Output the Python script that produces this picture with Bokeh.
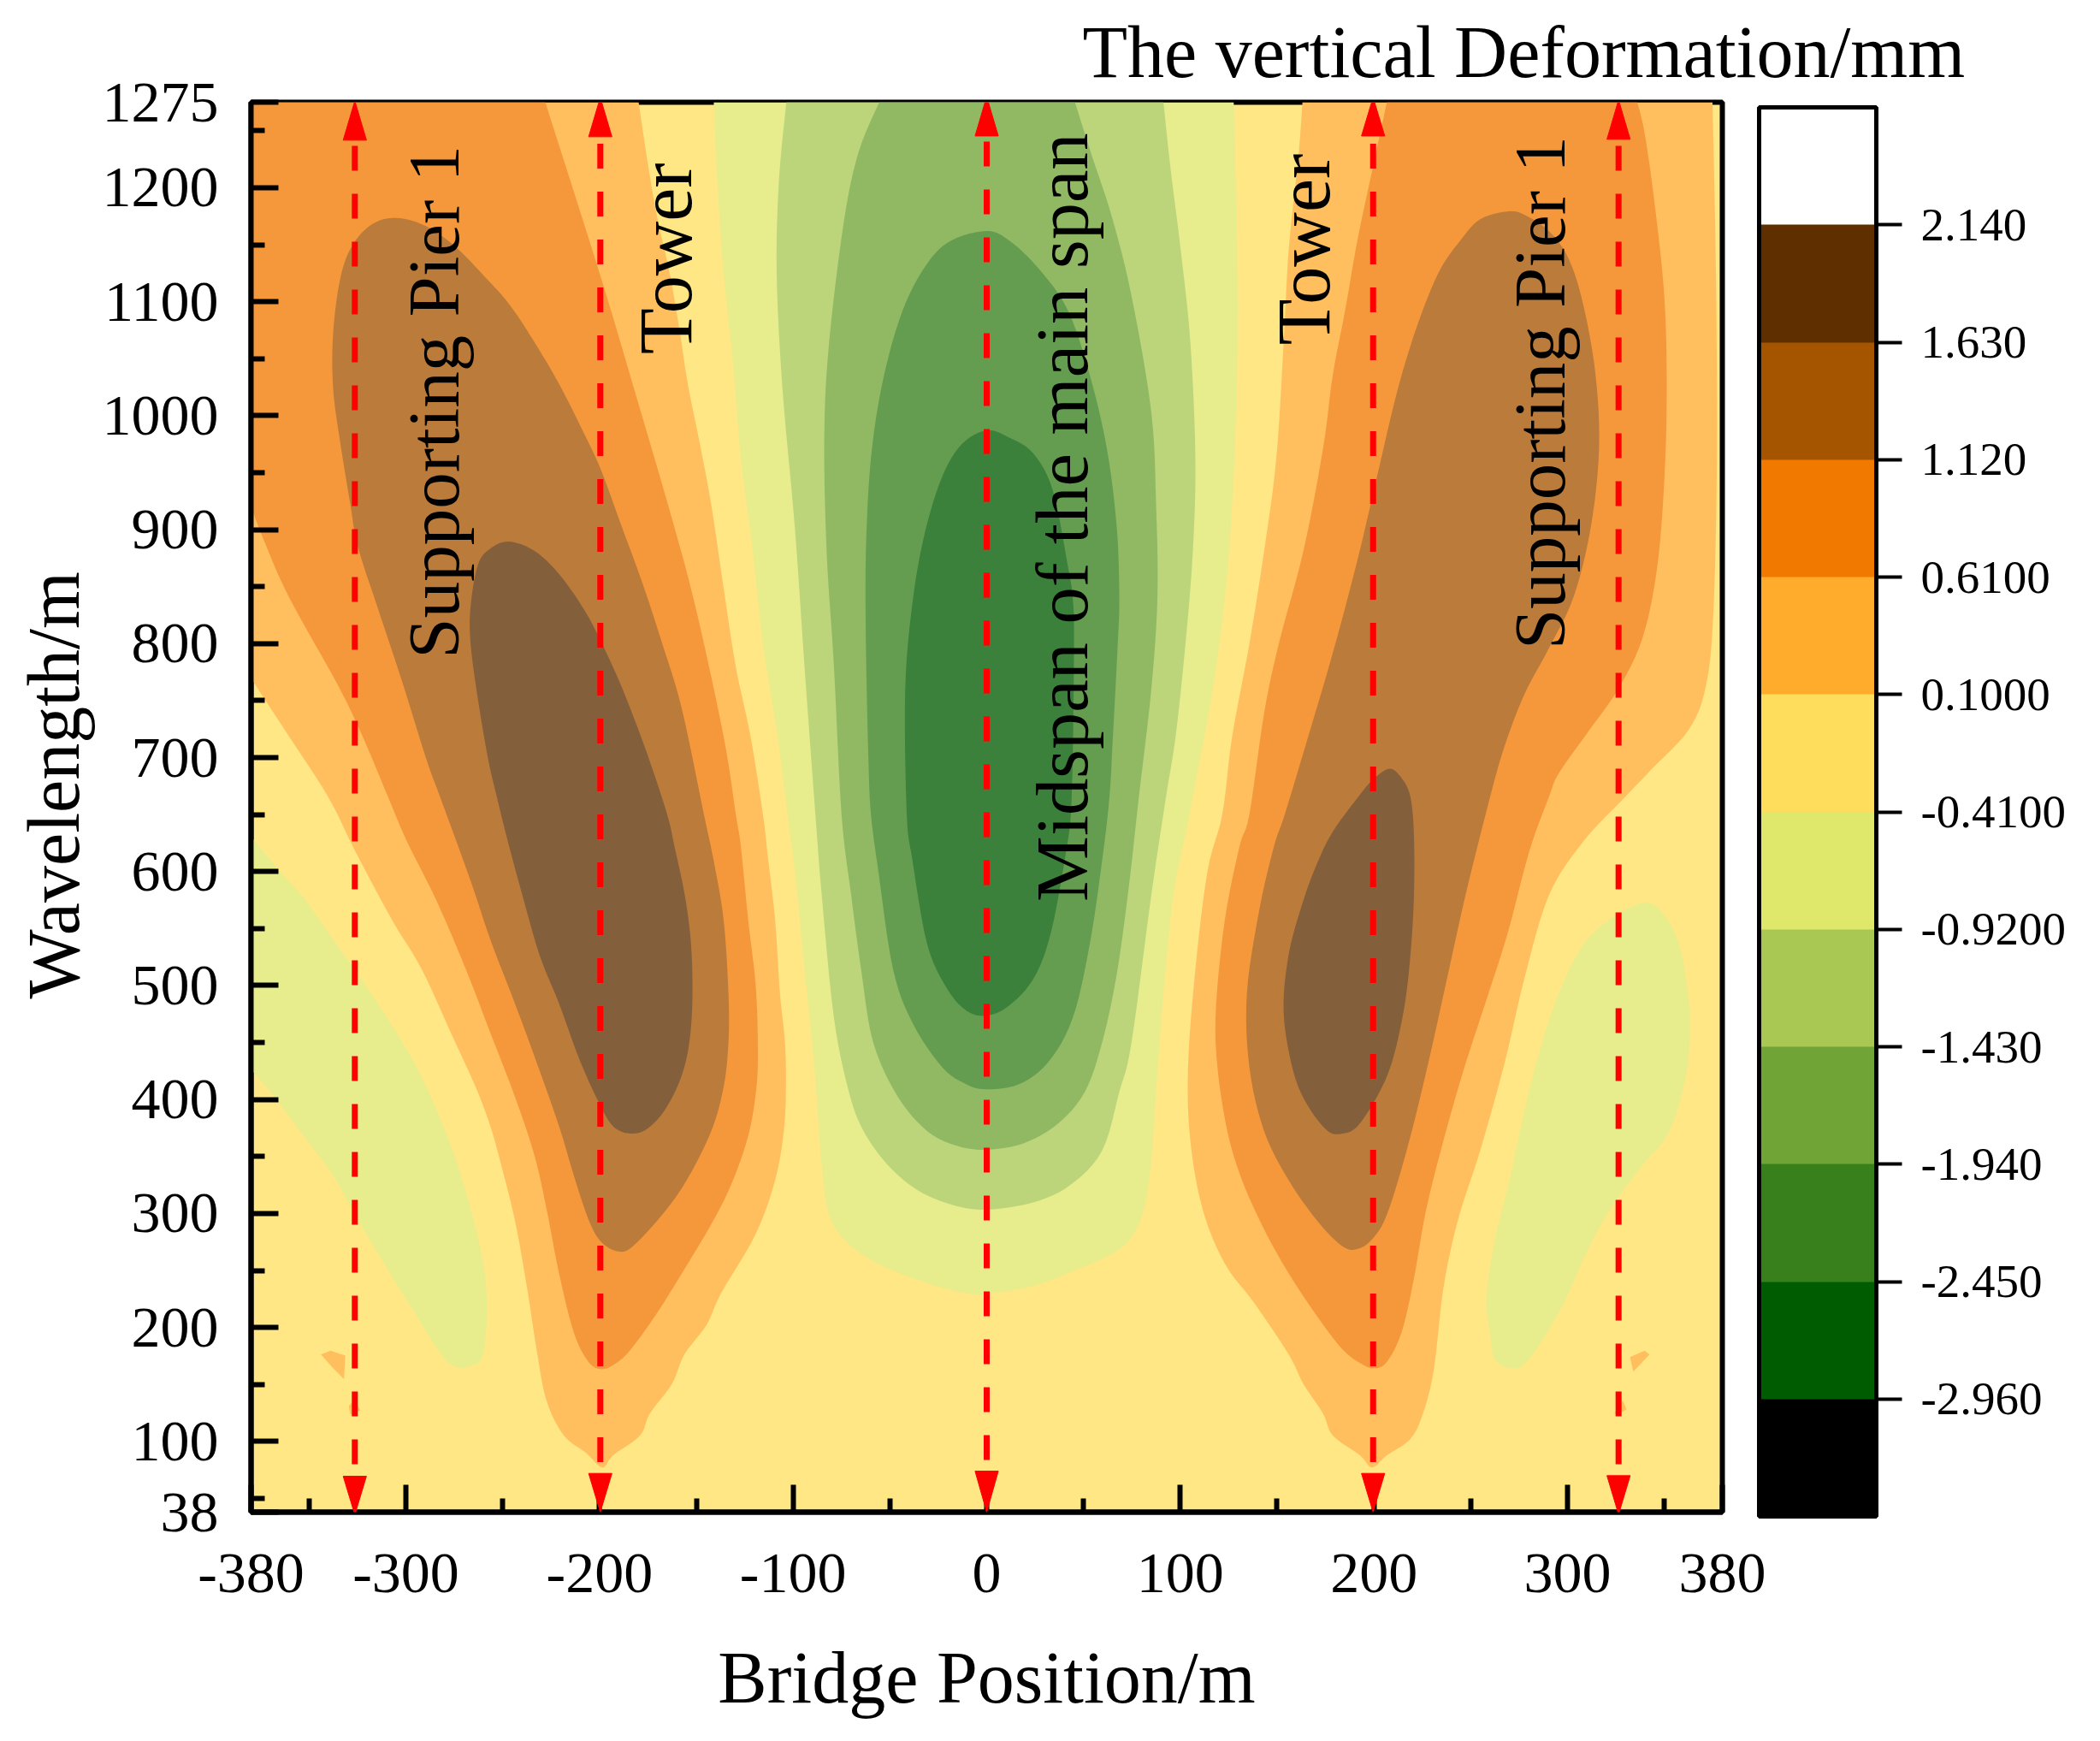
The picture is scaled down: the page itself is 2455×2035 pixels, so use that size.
from math import pi
from bokeh.plotting import figure
from bokeh.models import ColorBar, FixedTicker, LinearColorMapper, PolyAnnotation, Title
from bokeh.core.properties import value
from bokeh.embed import file_html
from bokeh.resources import INLINE

FONT = "Liberation Serif"

# ---- axes
x_major = [-380, -300, -200, -100, 0, 100, 200, 300, 380]
x_minor = [-350, -250, -150, -50, 50, 150, 250, 350]
y_major = [38, 100, 200, 300, 400, 500, 600, 700, 800, 900, 1000, 1100, 1200, 1275]
y_minor = [50, 150, 250, 350, 450, 550, 650, 750, 850, 950, 1050, 1150, 1250]

# ---- colour scale
levels = [-2.96, -2.45, -1.94, -1.43, -0.92, -0.41, 0.10, 0.61, 1.12, 1.63, 2.14]
level_labels = ["-2.960", "-2.450", "-1.940", "-1.430", "-0.9200", "-0.4100", "0.1000", "0.6100", "1.120", "1.630", "2.140"]
palette = ["#000000", "#005C00", "#37801C", "#70A436", "#A8C853", "#E0E86B",
           "#FFDD5C", "#FFAB2B", "#F27900", "#A55400", "#5F2F00", "#FFFFFF"]
scale_low, scale_high = -3.47, 2.65

# ---- contour fill colours
c_bg = "#FEE784"
c_pos1 = "#FFBF5F"
c_pos2 = "#F5983B"
c_pos3 = "#BA7B3B"
c_pos4 = "#845F3B"
c_neg1 = "#E7ED8D"
c_neg2 = "#BCD57B"
c_neg3 = "#91B964"
c_neg4 = "#659D50"
c_neg5 = "#3B813B"

# ---- contours, left lobe
L1_x = [-179.8,-175.2,-170.2,-163.8,-158.8,-154.4,-148.6,-142.3,-135.9,-129.6,-122,-115.6,-113.1,-109.3,-106.8,-104.2,-103.7,-104.8,-109.3,-119.4,-137.2,-144.8,-156.2,-162.6,-174,-179.1,-193,-198.6,-207,-218.4,-227.3,-232.3,-237.4,-243.8,-251.4,-256.4,-264,-276.8,-291.9,-307.2,-326.2,-340.1,-360.4,-380]
L1_y = [1275,1223,1174,1125.5,1076.6,1027.8,979,922,848.8,779.6,718.6,650.3,613.6,557.6,493,449.9,411,372.3,329.2,281.8,230.1,202.1,176.3,150.4,124.6,105.2,87.9,77.2,90.1,105.2,135.3,178.4,234.4,294.8,346.5,376.6,411,458.5,514.5,557.6,617.9,665.3,718.6,769.5]

L2_x = [-228,-199.3,-182.9,-162.6,-149.9,-135.9,-129.6,-127,-123.2,-119.4,-118.2,-118.9,-123.2,-132.1,-142.3,-157.5,-170.2,-182.9,-190.5,-198.6,-205.7,-213.3,-220.9,-227.3,-233.6,-243.7,-256.4,-269.1,-284.3,-299.5,-309.2,-322.4,-335.1,-360.4,-373.1,-380]
L2_y = [1275,1121.4,1027.8,909.8,828.5,718.6,650.3,622.2,557.6,501.6,449.9,411,368,325,290.5,247.4,212.9,182.8,169.8,163.4,169.8,195.7,247.4,303.4,350.8,402.5,458.5,514.5,574.8,626.5,665.3,718.6,763.4,840.7,889.5,920]

L3_x = [-304.6,-289.4,-274.2,-259,-246.3,-233.6,-220.9,-208.2,-199.3,-189.2,-177.8,-167.6,-157.5,-146.1,-141,-135.9,-133.4,-133.4,-135.9,-142.3,-155,-167.6,-182.9,-190.5,-199.3,-205.7,-213.3,-220.9,-232.5,-243.7,-256.4,-266.6,-282.3,-289.4,-302.1,-314.8,-324.9,-328.7,-333.8,-337.6,-337.6,-333.8,-327.5,-317.3]
L3_y = [1173.5,1166.1,1147.8,1121.4,1097,1064.4,1027.8,985.1,952.6,905.8,853,800,743,650.3,609.3,557.6,493,449.9,411,372.3,329.2,299,271.1,266.8,275.4,294.8,333.5,376.6,432.6,484.3,540.3,592,665.3,698.3,767.4,832.5,885.4,922,975,1023.8,1072.6,1121.4,1149.9,1168.2]

L4_x = [-246.8,-233.6,-220.9,-208.2,-199.3,-187.9,-175.2,-165.1,-161.3,-155.5,-152.4,-152.4,-156.2,-165.1,-175.2,-184.1,-193,-200.6,-210.8,-220.9,-231.1,-241.2,-248,-253,-257.5,-262.8,-266.6,-266.6,-262.8,-256.4]
L4_y = [889.5,881.4,861,830.5,802,759.3,702.4,650.3,622.2,574.8,527.4,471.4,428.3,393.9,374.5,370.2,376.6,398.2,437,484.3,527.4,587.7,630.8,665.3,698.3,751.2,800,832.5,869.2,883.4]

LG_x = [-380,-365.5,-352.8,-337.6,-324.9,-309.7,-294.5,-281.8,-271.6,-261.5,-258.2,-260.2,-266.6,-274.2,-281.8,-297,-309.7,-324.9,-337.6,-352.8,-368,-380]
LG_y = [630.8,600.7,577,540.3,510.2,471.4,428.3,381,333.5,268.9,221.5,176.3,166.4,165.5,176.3,217.2,251.7,294.8,333.5,368,402.5,426.2]

LB1_x = [-343.9,-338.9,-331.3,-332,-337.6]
LB1_y = [176.3,179.7,175.4,154.7,164.2]
LB2_x = [-329.5,-326.9,-323.6,-328.7]
LB2_y = [131,136.2,127.6,123.3]

# ---- contours, centre lobe
G1_x = [-141,-139.2,-135.9,-130.9,-127,-120.8,-115.6,-108,-102.9,-99.1,-94.1,-89,-85.2,-81.4,-72.5,-56,-30.7,-10.4,0,24.1,44.4,64.7,74.8,81.1,85,87.5,91.3,96.4,104,107.8,116.7,123,126.8,128.8,129.6,129.1,127.6]
G1_y = [1275,1206.8,1125.5,1044,962.7,881.4,800,718.6,650.3,600.7,514.5,428.3,342.2,299,275.4,256,238.8,230.1,229.3,236.6,249.5,264.6,279.7,303.4,346.5,406.8,493,579.1,643.8,678,759.3,840.7,922,1003.4,1084.8,1166.1,1275]

G2_x = [-103.5,-107.3,-108.5,-105.5,-99.1,-94.1,-88.5,-85.2,-78.9,-71.2,-63.6,-50.9,-35.8,-18,0,24.1,43.1,59.6,68.5,74.8,85,92.6,97.6,102.7,106.5,107.8,105.2,100.2,95.1,91.3]
G2_y = [1275,1206.8,1125.5,1023.8,901.7,779.6,650.3,579.1,471.4,406.8,372.3,342.2,320.6,307.7,303.4,309.8,324.9,355.1,406.8,449.9,579.1,665.3,718.6,800,881.4,962.7,1064.4,1145.8,1215,1275]

G3_x = [-55.5,-66.2,-73.8,-81.4,-83.9,-82.7,-78.9,-75,-70,-64.9,-58.6,-45.9,-30.7,-15.4,0,19,36.8,50.7,59.6,67.2,73.5,78.6,85,88.2,87.5,85,74.8,64.7,54.5,45.6]
G3_y = [1275,1231.2,1170.2,1064.4,983,881.4,779.6,650.3,579.1,514.5,449.9,402.5,372.3,359.4,356,361.6,378.8,406.8,449.9,510.2,587.7,665.3,759.3,840.7,922,1003.4,1105.1,1174.3,1227.2,1275]

G4_x = [0,-18,-30.7,-43.3,-53.5,-59.8,-62.4,-62.4,-61.1,-59.8,-56,-48.4,-38.3,-23,-10.4,0,16.5,31.7,44.4,53.2,59.6,63.4,65.2,67.7,68.5,67.2,62.1,53.2,41.8,26.6,11.4]
G4_y = [1162,1154,1133.6,1092.9,1031.9,962.7,881.4,800,698.3,650.3,600.7,514.5,467.1,428.3,413.3,409,413.3,432.6,471.4,536,609.3,665.3,718.6,800,840.7,901.7,970.9,1036,1092.9,1129.5,1154]

G5_x = [0,-12.9,-23,-31.9,-38.3,-42.1,-41.3,-38.3,-30.7,-20.5,-10.4,0,11.4,24.1,32.9,40.6,43.9,45.1,44.4,41.8,34.2,24.1,11.4]
G5_y = [987.1,975,946.4,897.6,836.6,759.3,650.3,609.3,536,497.3,477.9,473.6,482.2,505.9,544.7,613.6,665.3,800,840.7,869.2,934.2,966.8,981]

# ---- contours, right lobe
R1_x = [163.1,161,156,153.4,149.6,143.3,135.7,126.8,121.7,114.1,107.8,104,105.2,111.6,123,138.2,156,163.6,173.7,178.8,192.8,199.1,206.7,218.1,224.5,230.8,235.9,243.5,254.9,267.6,277.7,290.4,308.2,329.7,343.7,362.7,371.6,375.4,377.2,376.7,374.9]
R1_y = [1275,1227.2,1145.8,1064.4,962.7,881.4,800,718.6,650.3,600.7,514.5,428.3,363.7,303.4,256,221.5,176.3,150.4,124.6,105.2,87.9,77.2,87.9,100.9,120.3,161.2,234.4,294.8,355.1,432.6,505.9,579.1,626.5,665.3,690.2,724.7,763.4,828.5,962.7,1125.5,1275]

R2_x = [206.7,199.1,191.5,185.2,178.8,173.7,163.6,150.9,143.3,135.7,130.6,123,118.4,119.2,124.3,131.9,143.3,156,171.2,183.9,194,200.4,206.7,214.3,220.7,227,235.9,246,257.5,268.9,280.3,290.4,295.5,310.7,325.9,338.6,346.2,350,351.3,350,345,339.9,336.1]
R2_y = [1275,1215,1154,1092.9,1036,970.9,881.4,800,739,650.3,622.2,557.6,480,428.3,372.3,329.2,286.1,247.4,208.6,180.6,167.7,164.2,169.8,195.7,243.1,303.4,363.7,424,484.3,544.7,617.9,665.3,686.1,722.7,759.3,804.1,865.1,942.4,1023.8,1105.1,1186.5,1247.5,1275]

R3_x = [268.9,254.9,244.8,233.4,221.9,211.8,201.6,191.5,178.8,166.1,154,148.4,140.8,134.4,135.7,143.3,156,171.2,183.9,191.5,199.1,206.7,216.9,227,237.2,247.3,260,267.6,277.7,290.4,303.1,312,316.3,314.5,308.2,300.6,290.4,277.7]
R3_y = [1179.2,1172.3,1154,1125.5,1076.6,1019.7,946.4,873.2,791.9,718.6,650.3,622.2,566.2,493,428.3,372.3,329.2,292.6,271.1,268.9,277.5,299,355.1,424,501.6,579.1,665.3,710.5,755.3,796,840.7,901.7,970.9,1036,1097,1137.7,1162,1176.3]

R4_x = [208,199.1,190.2,178.8,171.2,163.6,156,153.4,158.5,166.1,176.3,183.9,191.5,201.6,209.3,215.6,218.9,220.7,220.7,218.9,214.3]
R4_y = [690.2,680,661.7,635.1,609.3,574.8,527.4,475.7,424,393.9,372.3,370.2,376.6,402.5,432.6,480,527.4,579.1,630.8,665.3,682]

RG_x = [339.9,350,357.7,361.5,363.2,361.5,352.6,338.6,323.4,310.7,299.3,287.9,277.7,270.1,262.5,260,258.2,262.5,270.1,277.7,285.4,295.5,308.2,323.4]
RG_y = [572.7,561.9,536,501.6,471.4,424,372.3,342.2,307.7,268.9,225.8,191.4,167.7,164.6,172,195.7,225.8,277.5,329.2,389.6,441.3,493,536,559.7]

RB1_x = [332.3,339.9,342.4,334]
RB1_y = [174.1,179.7,176.3,161.2]
RB2_x = [324.2,328.5,330.5,326]
RB2_y = [124.6,136.2,128.2,123.3]

# ---- red double arrows
arrow_x =          [-326.4, -199.6, 0, 199.6, 326.4]
arrow_tip_top =    [1276.2, 1279.2, 1280, 1279.2, 1277]
arrow_base_top =   [1241.7, 1244.7, 1245.4, 1245.4, 1242.5]
arrow_base_bot =   [69.5, 72, 74, 72, 70]
arrow_tip_bot =    [35.7, 38, 38, 38, 36]
arrow_line_start = [80, 82, 83.7, 82, 80]
head_half_width = 6.0

# ---- rotated annotations (x = baseline, y = start of text)
note_text = ["Supporting Pier 1", "Tower", "Midspan of the main span", "Tower", "Supporting Pier 1"]
note_x = [-285.5, -165.5, 39, 164, 285.5]
note_y = [787, 1054, 573.6, 1062, 795]
note_size = ["85px", "88px", "86.5px", "88px", "85px"]


def curve(xs, ys, closed=False, steps=6):
    """Draw the traced contour vertices as a smooth outline (Catmull-Rom through each vertex)."""
    n = len(xs)
    out_x, out_y = [], []
    last = n if closed else n - 1
    for i in range(last):
        if closed:
            i0, i1, i2, i3 = (i - 1) % n, i, (i + 1) % n, (i + 2) % n
        else:
            i0, i1, i2, i3 = max(i - 1, 0), i, i + 1, min(i + 2, n - 1)
        for k in range(steps):
            t = k / steps
            for src, out in ((xs, out_x), (ys, out_y)):
                a, b, c, d = src[i0], src[i1], src[i2], src[i3]
                out.append(0.5 * (2 * b + (c - a) * t + (2 * a - 5 * b + 4 * c - d) * t ** 2
                                  + (3 * b - a - 3 * c + d) * t ** 3))
    if not closed:
        out_x.append(xs[-1])
        out_y.append(ys[-1])
    return out_x, out_y


p = figure(frame_width=1720, frame_height=1648, x_range=(-380, 380), y_range=(38, 1275),
           min_border_left=293, min_border_right=434, min_border_top=118, min_border_bottom=253,
           toolbar_location=None, output_backend="svg", background_fill_color=c_bg,
           border_fill_color="white", outline_line_color="black", outline_line_width=6)
p.grid.visible = False

CORNER = (-380, 1275)
for xs, ys, col, closed, corner in [
    (LG_x, LG_y, c_neg1, False, None), (RG_x, RG_y, c_neg1, True, None),
    (L1_x, L1_y, c_pos1, False, CORNER), (L2_x, L2_y, c_pos2, False, CORNER),
    (L3_x, L3_y, c_pos3, True, None), (L4_x, L4_y, c_pos4, True, None),
    (R1_x, R1_y, c_pos1, False, None), (R2_x, R2_y, c_pos2, False, None),
    (R3_x, R3_y, c_pos3, True, None), (R4_x, R4_y, c_pos4, True, None),
    (G1_x, G1_y, c_neg1, False, None), (G2_x, G2_y, c_neg2, False, None), (G3_x, G3_y, c_neg3, False, None),
    (G4_x, G4_y, c_neg4, True, None), (G5_x, G5_y, c_neg5, True, None),
]:
    cx, cy = curve(xs, ys, closed)
    if corner:
        cx, cy = cx + [corner[0]], cy + [corner[1]]
    p.patch(cx, cy, fill_color=col, line_color=None)

for xs, ys in [(LB1_x, LB1_y), (LB2_x, LB2_y), (RB1_x, RB1_y), (RB2_x, RB2_y)]:
    p.patch(xs, ys, fill_color=c_pos1, line_color=None)

# arrows
for x, b1, s in zip(arrow_x, arrow_base_top, arrow_line_start):
    p.line([x, x], [s, b1], line_color="#FF0000", line_width=7, line_dash="29 27")

# annotations
for tx, x, y, size in zip(note_text, note_x, note_y, note_size):
    p.text([x], [y], text=[tx], angle=pi / 2, text_font=value(FONT), text_font_size=value(size),
           text_color="black", text_align="left", text_baseline="alphabetic")

for x, t1, b1, b0, t0 in zip(arrow_x, arrow_tip_top, arrow_base_top, arrow_base_bot, arrow_tip_bot):
    for base, tip in ((b1, t1), (b0, t0)):
        p.add_layout(PolyAnnotation(xs=[x - head_half_width, x, x + head_half_width], ys=[base, tip, base],
                                    fill_color="#FF0000", fill_alpha=1, line_color="#FF0000", line_alpha=1,
                                    level="overlay"))

# axes
for ax, maj, mnr, standoff in [(p.xaxis[0], x_major, x_minor, 49), (p.yaxis[0], y_major, y_minor, 38)]:
    ax.ticker = FixedTicker(ticks=maj, minor_ticks=mnr)
    ax.major_label_overrides = {v: str(v) for v in maj}
    ax.major_label_text_font = FONT
    ax.major_label_text_font_size = "68px"
    ax.major_label_text_color = "black"
    ax.major_label_standoff = standoff
    ax.axis_line_color = "black"
    ax.axis_line_width = 6
    ax.major_tick_line_color = "black"
    ax.major_tick_line_width = 6
    ax.minor_tick_line_color = "black"
    ax.minor_tick_line_width = 6
    ax.major_tick_in = 32
    ax.major_tick_out = 0
    ax.minor_tick_in = 16
    ax.minor_tick_out = 0

xax = p.xaxis[0]
xax.axis_label = "Bridge Position/m"
xax.axis_label_text_font = FONT
xax.axis_label_text_font_size = "86px"
xax.axis_label_text_font_style = "normal"
xax.axis_label_text_color = "black"
xax.axis_label_standoff = 49

# colour bar
mapper = LinearColorMapper(palette=palette, low=scale_low, high=scale_high)
cb = ColorBar(color_mapper=mapper, location=(1763, -5), width=137, height=1647, padding=0,
              ticker=FixedTicker(ticks=levels), major_label_overrides=dict(zip(levels, level_labels)),
              major_label_text_font=FONT, major_label_text_font_size="55px", major_label_text_color="black",
              label_standoff=22, major_tick_in=0, major_tick_out=30, major_tick_line_color="black",
              major_tick_line_width=4, bar_line_color="black", bar_line_width=5, border_line_color=None,
              background_fill_color=None, minor_tick_line_color=None)
p.add_layout(cb, "center")

# heading and y title
p.add_layout(Title(text="The vertical Deformation/mm", align="left", offset=972, text_font=FONT,
                   text_font_size="86px", text_font_style="normal", text_color="black", standoff=21), "above")
p.add_layout(Title(text="Wavelength/m", align="left", offset=600, text_font=FONT,
                   text_font_size="86px", text_font_style="normal", text_color="black", standoff=11), "left")

open("out.html", "w").write(file_html(p, INLINE))
